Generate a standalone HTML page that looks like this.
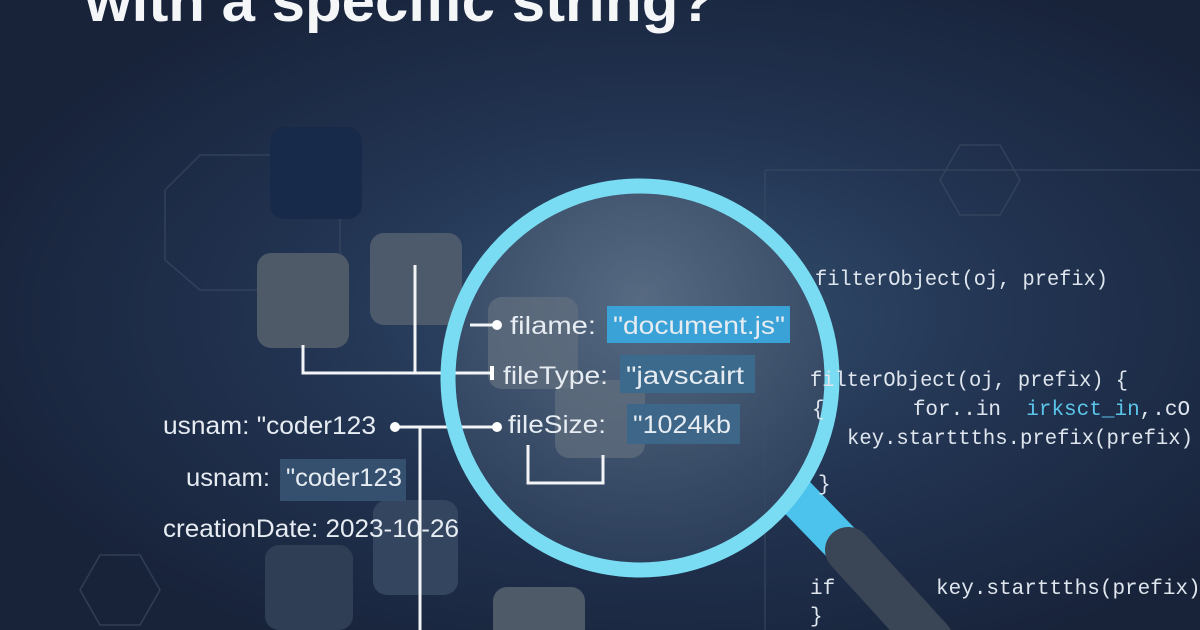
<!DOCTYPE html>
<html><head><style>
html,body{margin:0;padding:0;background:#1b2740;}
svg{display:block}
text{white-space:pre}
.s{font-family:"Liberation Sans",sans-serif;fill:#e6ecf2;font-size:25px}
.m{font-family:"Liberation Mono",monospace;fill:#dfe6ee;font-size:21px}
</style></head><body>
<svg width="1200" height="630" viewBox="0 0 1200 630" xmlns="http://www.w3.org/2000/svg" xml:space="preserve">
<defs>
<radialGradient id="bg" cx="0.55" cy="0.5" r="0.6">
<stop offset="0" stop-color="#34506f"/><stop offset="0.5" stop-color="#223452"/><stop offset="1" stop-color="#18233a"/>
</radialGradient>
<radialGradient id="lens" cx="0.5" cy="0.3" r="0.7">
<stop offset="0" stop-color="#5d6f86"/><stop offset="1" stop-color="#2c3f5b"/>
</radialGradient>
</defs>
<rect width="1200" height="630" fill="url(#bg)"/>
<g fill="none" stroke="#3a4a62" stroke-width="1.5" opacity="0.7">
<path d="M165 190 L200 155 L300 155 L340 190 L340 260 L300 290 L200 290 L165 260 Z"/>
<path d="M940 180 L960 145 L1000 145 L1020 180 L1000 215 L960 215 Z"/>
<path d="M765 170 L1200 170"/><path d="M765 170 L765 630"/>
<path d="M80 590 L100 555 L140 555 L160 590 L140 625 L100 625 Z"/>
</g>
<rect x="270" y="127" width="92" height="92" rx="14" fill="#182a4a"/>
<rect x="257" y="253" width="92" height="95" rx="14" fill="#4f5a68"/>
<rect x="370" y="233" width="92" height="92" rx="14" fill="#4d5a6c"/>
<rect x="265" y="545" width="88" height="85" rx="14" fill="#2f3e55"/>
<rect x="373" y="500" width="85" height="95" rx="14" fill="#344560"/>
<rect x="493" y="587" width="92" height="60" rx="14" fill="#4f5a68"/>
<line x1="790" y1="490" x2="848" y2="550" stroke="#4cc3ec" stroke-width="40"/>
<line x1="848" y1="550" x2="930" y2="640" stroke="#3a4556" stroke-width="46" stroke-linecap="round"/>
<circle cx="640" cy="378" r="196" fill="url(#lens)" opacity="0.85"/>
<rect x="488" y="297" width="90" height="92" rx="14" fill="#63707f" opacity="0.7"/>
<rect x="555" y="380" width="90" height="78" rx="14" fill="#63707f" opacity="0.7"/>
<g stroke="#f2f4f6" stroke-width="3" fill="none">
<path d="M303 345 L303 373 L490 373"/><path d="M415 265 L415 373"/>
<path d="M395 427 L497 427"/><path d="M420 427 L420 630"/>
<path d="M470 325 L497 325"/>
<path d="M528 445 L528 483 L603 483 L603 455"/>
</g>
<circle cx="395" cy="427" r="5" fill="#fff"/><circle cx="497" cy="427" r="5" fill="#fff"/><circle cx="497" cy="325" r="5" fill="#fff"/>
<rect x="490" y="366" width="4" height="14" fill="#fff"/>
<rect x="607" y="306" width="183" height="37" fill="#3aa2d6"/>
<rect x="620" y="355" width="135" height="38" fill="#3b6a8c"/>
<rect x="627" y="404" width="113" height="40" fill="#3d6689"/>
<rect x="280" y="459" width="126" height="42" fill="#34506e"/>
<circle cx="640" cy="378" r="192" fill="none" stroke="#79dcf3" stroke-width="15"/>
<text class="s" x="510" y="334" textLength="86" lengthAdjust="spacingAndGlyphs">filame:</text><text class="s" x="613" y="334" textLength="172" lengthAdjust="spacingAndGlyphs">"document.js"</text>
<text class="s" x="503" y="384" textLength="105" lengthAdjust="spacingAndGlyphs">fileType:</text><text class="s" x="626" y="384" textLength="118" lengthAdjust="spacingAndGlyphs">"javscairt</text>
<text class="s" x="508" y="433" textLength="98" lengthAdjust="spacingAndGlyphs">fileSize:</text><text class="s" x="633" y="433" textLength="98" lengthAdjust="spacingAndGlyphs">"1024kb</text>
<text class="s" x="163" y="434" textLength="213" lengthAdjust="spacingAndGlyphs">usnam: "coder123</text>
<text class="s" x="186" y="486" textLength="84" lengthAdjust="spacingAndGlyphs">usnam:</text><text class="s" x="286" y="486" textLength="116" lengthAdjust="spacingAndGlyphs">"coder123</text>
<text class="s" x="163" y="537" textLength="296" lengthAdjust="spacingAndGlyphs">creationDate: 2023-10-26</text>
<text class="m" x="815" y="285" textLength="293" lengthAdjust="spacingAndGlyphs">filterObject(oj, prefix)</text>
<text class="m" x="810" y="386" textLength="318" lengthAdjust="spacingAndGlyphs">filterObject(oj, prefix) {</text>
<text class="m" x="812" y="415">{       for..in  <tspan fill="#5cc4ea">irksct_in</tspan>,.cO</text>
<text class="m" x="847" y="444" textLength="346" lengthAdjust="spacingAndGlyphs">key.starttths.prefix(prefix)</text>
<text class="m" x="818" y="490">}</text>
<text class="m" x="810" y="594">if        key.starttths(prefix);</text>
<text class="m" x="810" y="622">}</text>
<text x="85" y="21" font-family="Liberation Sans,sans-serif" font-weight="bold" font-size="58" fill="#f4f6f8" textLength="630" lengthAdjust="spacingAndGlyphs">with a specific string?</text>
</svg>
</body></html>
